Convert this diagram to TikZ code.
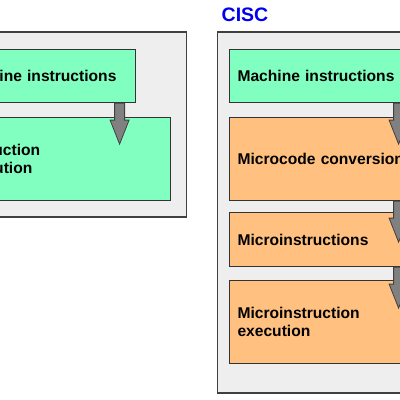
\documentclass[tikz,border=0pt]{standalone}
\usepackage{fontspec}
\setmainfont{Liberation Sans}
\usetikzlibrary{calc}
\definecolor{panelfill}{HTML}{EEEEEE}
\definecolor{panelline}{HTML}{404040}
\definecolor{greenbox}{HTML}{80FFC0}
\definecolor{orangebox}{HTML}{FFC080}
\definecolor{arrowfill}{HTML}{808080}
\definecolor{boxline}{HTML}{333333}
\definecolor{titleblue}{HTML}{0000F0}
\tikzset{
  panel/.style={fill=panelfill, draw=panelline, line width=1.3pt},
  stagebox/.style={draw=boxline, line width=1.1pt, anchor=north west,
    inner xsep=8pt, inner ysep=0pt, align=left,
    font=\fontsize{15.6}{18}\selectfont\bfseries},
  greenstage/.style={stagebox, fill=greenbox},
  orangestage/.style={stagebox, fill=orangebox},
  flowarrow/.style={fill=arrowfill, draw=panelline, line width=0.8pt, line join=miter},
  titletext/.style={text=titleblue, font=\fontsize{19.5}{22}\selectfont\bfseries}
}
\newcommand\flowdown[1]{%
  \draw[flowarrow] ($(#1.south east)+(-21.5,0)$) -- ++(10,0) -- ++(0,17)
    -- ++(4.5,0) -- ++(-9.5,24) -- ++(-9.5,-24) -- ++(4.5,0) -- cycle;}
\begin{document}
\begin{tikzpicture}[x=1pt,y=-1pt]
\useasboundingbox (0,0) rectangle (400,400);
\clip (0,0) rectangle (400,400);
% panels
\draw[panel] (-80,32) rectangle (186.5,217);
\draw[panel] (217.5,32) rectangle (480,393);
% title
\node[titletext] (cisc) at (245,14.5) {CISC};
% left column
\node[greenstage, text width=168pt, minimum height=53pt] (l1) at (-49,49) {Machine instructions};
\node[greenstage, text width=203pt, minimum height=83pt] (l2) at (-49,117) {Instruction\\execution};
% right column
\node[greenstage, text width=169pt, minimum height=53pt] (r1) at (229,49) {Machine instructions};
\node[orangestage, text width=169pt, minimum height=83pt] (r2) at (229,117) {Microcode conversion};
\node[orangestage, text width=169pt, minimum height=54pt] (r3) at (229,212) {Microinstructions};
\node[orangestage, text width=169pt, minimum height=83pt] (r4) at (229,280) {Microinstruction\\execution};
% arrows
\flowdown{l1}
\flowdown{r1}
\flowdown{r2}
\flowdown{r3}
\end{tikzpicture}
\end{document}
